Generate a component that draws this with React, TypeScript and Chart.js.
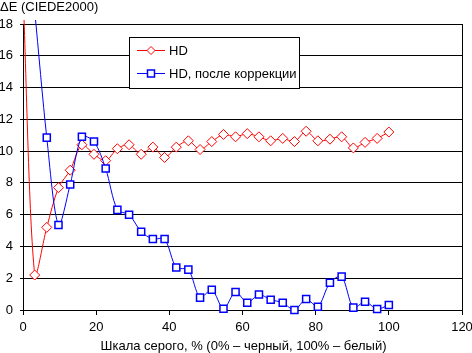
import React, { useEffect, useRef } from "react";
import { Chart, registerables } from "chart.js";

Chart.register(...registerables);

// Grey level (%) positions of the measured points
const greyLevels = [
  0, 3.2, 6.5, 9.7, 12.9, 16.1, 19.4, 22.6, 25.8, 29.0, 32.3, 35.5, 38.7, 41.9, 45.2, 48.4,
  51.6, 54.8, 58.1, 61.3, 64.5, 67.7, 71.0, 74.2, 77.4, 80.6, 83.9, 87.1, 90.3, 93.5, 96.8, 100,
];

// ΔE values, "HD"
const hdValues = [
  20, 2.2, 5.2, 7.7, 8.8, 10.4, 9.8, 9.4, 10.15, 10.4, 9.8, 10.25, 9.6, 10.25, 10.65, 10.1,
  10.6, 11.05, 10.9, 11.1, 10.9, 10.65, 10.8, 10.6, 11.25, 10.65, 10.75, 10.9, 10.2, 10.55, 10.8, 11.2,
];

// ΔE values, "HD, после коррекции"
const correctedValues = [
  26, 18.8, 10.85, 5.35, 7.9, 10.9, 10.6, 8.9, 6.3, 6.0, 4.93, 4.47, 4.47, 2.67, 2.54, 0.78,
  1.28, 0.08, 1.13, 0.46, 0.97, 0.65, 0.46, 0.0, 0.69, 0.21, 1.72, 2.1, 0.15, 0.52, 0.06, 0.32,
];

const seriesLabels = ["HD", "HD, после коррекции"];
const yAxisTitle = "ΔE (CIEDE2000)";
const xAxisTitle = "Шкала серого, % (0% – черный, 100% – белый)";

const FONT_FAMILY = '"Liberation Sans", Arial, sans-serif';
const RED = "#ff0000";
const BLUE = "#0000ff";

const decorPlugin = {
  id: "decor",
  afterDraw(chart: any) {
    const ctx = chart.ctx as CanvasRenderingContext2D;
    const area = chart.chartArea;
    ctx.save();
    // right border of the plot
    ctx.strokeStyle = "#000";
    ctx.lineWidth = 1;
    ctx.beginPath();
    const rx = Math.round(area.right) + 0.5;
    ctx.moveTo(rx, Math.round(area.top));
    ctx.lineTo(rx, Math.round(area.bottom) + 1);
    ctx.stroke();

    // titles
    ctx.fillStyle = "#000";
    ctx.font = `13px ${FONT_FAMILY}`;
    ctx.textBaseline = "alphabetic";
    ctx.textAlign = "left";
    ctx.fillText(yAxisTitle, 0, 11);
    ctx.textAlign = "center";
    ctx.fillText(xAxisTitle, (area.left + area.right) / 2 + 1, 350);

    // legend box
    ctx.fillStyle = "#fff";
    ctx.fillRect(129.5, 37.5, 170, 51);
    ctx.strokeStyle = "#000";
    ctx.strokeRect(129.5, 37.5, 170, 51);

    const entries = [
      { label: seriesLabels[0], color: RED, style: "diamond", y: 50.5 },
      { label: seriesLabels[1], color: BLUE, style: "square", y: 73.5 },
    ];
    for (const e of entries) {
      ctx.strokeStyle = e.color;
      ctx.lineWidth = 1;
      ctx.beginPath();
      ctx.moveTo(137, e.y);
      ctx.lineTo(165, e.y);
      ctx.stroke();
      ctx.fillStyle = "#fff";
      ctx.beginPath();
      if (e.style === "diamond") {
        ctx.moveTo(151, e.y - 4);
        ctx.lineTo(155, e.y);
        ctx.lineTo(151, e.y + 4);
        ctx.lineTo(147, e.y);
        ctx.closePath();
      } else {
        ctx.rect(147.5, e.y - 3.5, 7, 7);
        ctx.lineWidth = 1.5;
      }
      ctx.fill();
      ctx.stroke();
      ctx.fillStyle = "#000";
      ctx.textAlign = "left";
      ctx.textBaseline = "middle";
      ctx.font = `13px ${FONT_FAMILY}`;
      ctx.fillText(e.label, 169, e.y + 1);
    }
    ctx.restore();
  },
};

export default function App() {
  const canvasRef = useRef<HTMLCanvasElement | null>(null);

  useEffect(() => {
    const canvas = canvasRef.current;
    if (!canvas) return;
    const hdData = greyLevels.map((x, i) => ({ x, y: hdValues[i] }));
    const corrData = greyLevels.map((x, i) => ({ x, y: correctedValues[i] }));
    const clip = { left: 10, top: 4, right: 10, bottom: 10 };

    const chart = new Chart(canvas, {
      type: "line",
      data: {
        datasets: [
          {
            label: seriesLabels[1],
            data: corrData,
            borderColor: BLUE,
            borderWidth: 1,
            pointStyle: "rect",
            pointRadius: 5,
            pointBorderWidth: 1.5,
            pointBorderColor: BLUE,
            pointBackgroundColor: "#fff",
            tension: 0.3,
            fill: false,
            clip,
          } as any,
          {
            label: seriesLabels[0],
            data: hdData,
            borderColor: RED,
            borderWidth: 1,
            pointStyle: "rectRot",
            pointRadius: 5,
            pointBorderWidth: 1,
            pointBorderColor: RED,
            pointBackgroundColor: "#fff",
            tension: 0.3,
            fill: false,
            clip,
          } as any,
        ],
      },
      options: {
        responsive: false,
        animation: false,
        devicePixelRatio: 1,
        layout: { padding: { left: 0, right: 10, top: 24, bottom: 0 } },
        elements: { line: { capBezierPoints: false } as any },
        plugins: {
          legend: { display: false },
          tooltip: { enabled: false },
          title: { display: false },
        },
        scales: {
          x: {
            type: "linear",
            min: 0,
            max: 120,
            ticks: {
              stepSize: 20,
              color: "#000",
              font: { family: FONT_FAMILY, size: 13 },
              padding: 5,
              maxRotation: 0,
            },
            grid: {
              drawOnChartArea: false,
              drawTicks: true,
              tickLength: 5,
              color: "#000",
              lineWidth: 1,
            },
            border: { color: "#000", width: 1 },
            afterFit(scale: any) {
              scale.height = 43;
              scale.paddingLeft = 0;
              scale.paddingRight = 0;
            },
          },
          y: {
            type: "linear",
            min: 0,
            max: 18,
            ticks: {
              stepSize: 2,
              color: "#000",
              font: { family: FONT_FAMILY, size: 13 },
              padding: 7,
            },
            grid: {
              color: "#000",
              lineWidth: 1,
              tickLength: 3,
            },
            border: { color: "#000", width: 1 },
            afterFit(scale: any) {
              scale.width = 23;
              scale.paddingTop = 0;
              scale.paddingBottom = 0;
            },
          },
        },
      },
      plugins: [decorPlugin],
    });
    return () => chart.destroy();
  }, []);

  return (
    <div style={{ position: "fixed", left: 0, top: 0, width: 472, height: 353, background: "#fff" }}>
      <canvas ref={canvasRef} width={472} height={353} style={{ display: "block" }} />
    </div>
  );
}
